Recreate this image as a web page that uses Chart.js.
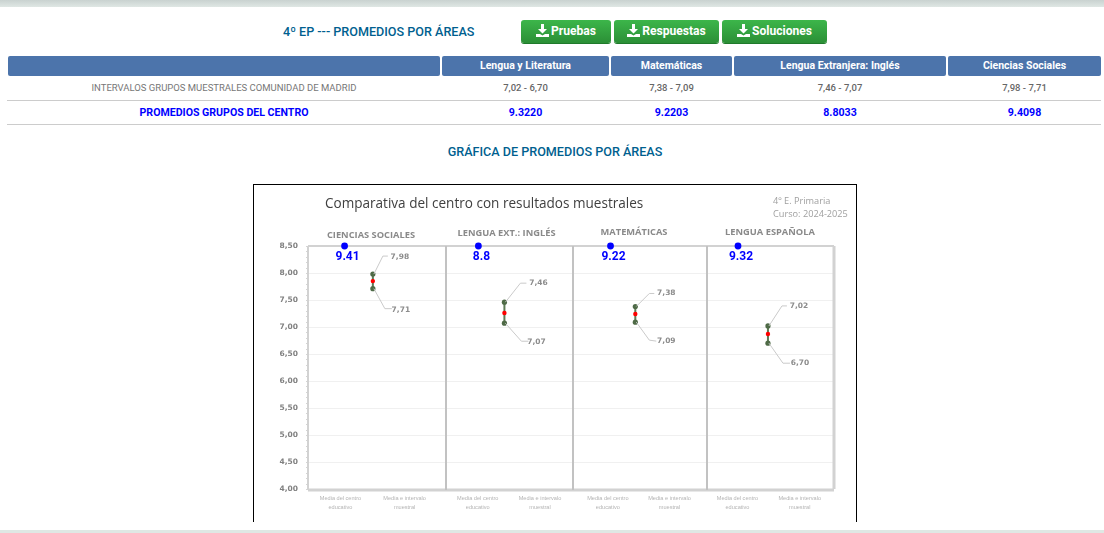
<!DOCTYPE html>
<html lang="es"><head><meta charset="utf-8">
<script src="https://cdn.jsdelivr.net/npm/chart.js@4"></script>
<style>
html,body{margin:0;padding:0;background:#fff;width:1104px;height:533px;overflow:hidden;font-family:Roboto,sans-serif}
.abs{position:absolute;white-space:nowrap}
#topbar{left:0;top:0;width:1104px;height:7px;background:linear-gradient(#c9d2d0,#dfe7e4)}
#botbar{left:0;top:530px;width:1104px;height:3px;background:#dfe8e4}
.ttl{color:#005f8f;font-size:12.6px;font-weight:500}
.btn{top:20px;height:23px;border-radius:3px;background:linear-gradient(#3cb64a,#2b8f36);color:#fff;font-weight:700;font-size:12.1px;line-height:23px;text-align:center;box-shadow:0 1px 0 #1f7a2b}
.btn svg{vertical-align:-2px;margin-right:2px}
.hd{top:56px;height:20px;background:#4c74ab;color:#fff;font-weight:700;font-size:10.5px;line-height:20px;text-align:center;border-radius:2px}
.c1,.c2{text-align:center}
.c1{top:77px;height:22px;line-height:22px;font-size:9.5px;color:#777}
.c1.v{font-weight:500;font-size:9.5px;color:#666}
.c2{top:101px;height:23px;line-height:23px;font-size:10.6px;font-weight:700;color:#00f}
.ln{left:7px;width:1094px;height:1px;background:#ccc}
#box{left:253px;top:184px;width:602px;height:337px;border:1px solid #000;border-bottom:none}
#wrap{left:254px;top:185px;width:602px;height:336px}
canvas{filter:blur(.35px)}
</style></head><body>
<div class="abs" id="topbar"></div><div class="abs" id="botbar"></div>
<div class="abs ttl" style="left:283px;top:24px">4º EP --- PROMEDIOS POR ÁREAS</div>
<div id="page"></div>
<div class="abs ln" style="top:100px"></div><div class="abs ln" style="top:124px"></div>
<div class="abs ttl" style="left:355px;width:400px;top:144px;text-align:center">GRÁFICA DE PROMEDIOS POR ÁREAS</div>
<div class="abs" id="box"></div>
<div class="abs" id="wrap"><canvas id="c" width="602" height="336" style="width:602px;height:336px"></canvas></div>
<script>
// ---- page table ----
const tableSubjects = ["Lengua y Literatura","Matemáticas","Lengua Extranjera: Inglés","Ciencias Sociales"];
const tableIntervals = ["7,02 - 6,70","7,38 - 7,09","7,46 - 7,07","7,98 - 7,71"];
const tableAverages = ["9.3220","9.2203","8.8033","9.4098"];
const buttonNames = ["Pruebas","Respuestas","Soluciones"];
// ---- chart data (in chart order) ----
const areas = ["CIENCIAS SOCIALES","LENGUA EXT.: INGLÉS","MATEMÁTICAS","LENGUA ESPAÑOLA"];
const centerAverages = [9.41,8.8,9.22,9.32];
const rangeHigh = [7.98,7.46,7.38,7.02];
const rangeLow = [7.71,7.07,7.09,6.70];
const rangeMean = [7.85,7.26,7.24,6.87];
const xLabels = [["Media del centro","educativo"],["Media e intervalo","muestral"]];
const yMin = 4, yMax = 8.5;

// ---- layout only ----
const panelEdges = [0,138,265,399,526];
const centerFrac = [.265,.255,.28,.244];
const rangeFrac = [.47,.46,.465,.48];
const labelFrac = [[.235,.70],[.25,.74],[.26,.72],[.24,.73]];
const xAt = (i,f)=>panelEdges[i]+f*(panelEdges[i+1]-panelEdges[i]);

const page=document.getElementById('page');
function add(cls,l,w,txt,html){const d=document.createElement('div');d.className='abs '+cls;d.style.left=l+'px';d.style.width=w+'px';if(html)d.innerHTML=html;else d.textContent=txt;page.appendChild(d);}
const icon='<svg width="13" height="13" viewBox="0 0 13 13"><path fill="#fff" d="M5 0h3v5h3L6.5 9.5 2 5h3zM0 10h4l2.5 1.5L9 10h4v3H0z"/></svg>';
[[521,90],[614,105],[722,105]].forEach((b,i)=>add('btn',b[0],b[1],'',icon+buttonNames[i]));
const cols=[[8,432],[442,167],[611,121],[734,212],[948,153]];
add('hd',cols[0][0],cols[0][1],'');
tableSubjects.forEach((s,i)=>{const c=cols[i+1];add('hd',c[0],c[1],s);add('c1 v',c[0],c[1],tableIntervals[i]);add('c2',c[0],c[1],tableAverages[i]);});
add('c1',cols[0][0],cols[0][1],'INTERVALOS GRUPOS MUESTRALES COMUNIDAD DE MADRID');
add('c2',cols[0][0],cols[0][1],'PROMEDIOS GRUPOS DEL CENTRO');

// ---- datasets ----
const rangeLine=[];
areas.forEach((a,i)=>{const x=xAt(i,rangeFrac[i]);
  rangeLine.push({x,y:rangeHigh[i]},{x,y:rangeLow[i]},{x,y:null});});
const leaderShape=[ // offsets in px from the mark to elbow, end of line, text centre
 {hi:[10,-18,15,-18,27,-17],lo:[12,20,19,20,28,21]},
 {hi:[16,-19,22,-19,34,-19],lo:[17,18,24,18,32,19]},
 {hi:[14,-13,19,-13,31,-13],lo:[14,18,21,19,31,19]},
 {hi:[14,-20,19,-20,31,-20],lo:[15,20,22,20,32,20]}];
const fmt=v=>v.toFixed(2).replace('.',',');

const deco={id:'deco',
 beforeDatasetsDraw(ch){const {ctx,scales:{x,y},chartArea:a}=ch;ctx.save();
  ctx.strokeStyle='#d4d4d4';ctx.lineWidth=1;
  for(let k=0;k<=45;k++){const py=Math.round(y.getPixelForValue(yMin+k*0.1))+.5;ctx.beginPath();ctx.moveTo(a.left-2,py);ctx.lineTo(a.left,py);ctx.stroke();}
  ctx.strokeStyle='#d2d2d2';ctx.lineWidth=2;ctx.beginPath();ctx.moveTo(a.left,a.top);ctx.lineTo(a.right,a.top);ctx.moveTo(a.left,a.top);ctx.lineTo(a.left,a.bottom);ctx.stroke();
  ctx.lineWidth=3;ctx.beginPath();ctx.moveTo(a.left,a.bottom+1);ctx.lineTo(a.right,a.bottom+1);ctx.moveTo(a.right,a.top);ctx.lineTo(a.right,a.bottom);ctx.stroke();
  ctx.strokeStyle='#c2c2c2';ctx.lineWidth=2;
  panelEdges.slice(1,-1).forEach(e=>{const px=x.getPixelForValue(e);ctx.beginPath();ctx.moveTo(px,a.top);ctx.lineTo(px,a.bottom+1);ctx.stroke();});
  ctx.restore();},
 afterDatasetsDraw(ch){const {ctx,scales:{x,y}}=ch;ctx.save();
  ctx.textBaseline='middle';
  areas.forEach((n,i)=>{const px=x.getPixelForValue(xAt(i,rangeFrac[i]));
   [['hi',rangeHigh[i]],['lo',rangeLow[i]]].forEach(([k,v])=>{const s=leaderShape[i][k],py=y.getPixelForValue(v);
    ctx.strokeStyle='#cacaca';ctx.lineWidth=1;ctx.beginPath();ctx.moveTo(px+1,py);ctx.lineTo(px+s[0],py+s[1]);ctx.lineTo(px+s[2],py+s[3]);ctx.stroke();
    ctx.fillStyle='#8c8c8c';ctx.font='bold 7.5px "DejaVu Sans"';ctx.textAlign='center';ctx.fillText(fmt(v),px+s[4],py+s[5]);});
   ctx.fillStyle='#0000ff';ctx.font='bold 12px Roboto';ctx.textAlign='center';
   ctx.fillText(String(centerAverages[i]),x.getPixelForValue(xAt(i,centerFrac[i]))+3,y.getPixelForValue(yMax)+10.5);
  });
  const hx=[117,252.5,380,516],hy=[50.5,48.5,47.5,47.5];
  ctx.fillStyle='#8a8a8a';ctx.font='bold 9.3px "Open Sans"';ctx.textAlign='center';
  areas.forEach((n,i)=>ctx.fillText(n,hx[i],hy[i]));
  ctx.textAlign='left';ctx.fillStyle='#404040';ctx.font='13.55px "Open Sans"';
  ctx.fillText('Comparativa del centro con resultados muestrales',71,19.5);
  ctx.fillStyle='#a0a0a0';ctx.font='9.2px "Open Sans"';
  ctx.fillText('4º E. Primaria',519,16);ctx.fillText('Curso: 2024-2025',519,29);
  ctx.restore();}
};

const xTickAt=[];areas.forEach((a,i)=>labelFrac[i].forEach((f,j)=>xTickAt.push({value:xAt(i,f),j})));

new Chart(document.getElementById('c'),{
 type:'scatter',
 data:{datasets:[
  {label:'Intervalo muestral',type:'line',data:rangeLine,spanGaps:false,borderColor:'#5d7a55',borderWidth:2,pointStyle:'circle',pointRadius:2.6,pointBackgroundColor:'#4e6a46',pointBorderWidth:0,order:2},
  {label:'Media muestral',data:areas.map((a,i)=>({x:xAt(i,rangeFrac[i]),y:rangeMean[i]})),pointStyle:'circle',pointRadius:2.2,backgroundColor:'#ff0000',borderWidth:0,order:1},
  {label:'Media del centro',data:areas.map((a,i)=>({x:xAt(i,centerFrac[i]),y:Math.min(centerAverages[i],yMax)})),pointStyle:'circle',pointRadius:3.4,backgroundColor:'#0000ff',borderWidth:0,clip:false,order:0}
 ]},
 options:{responsive:false,animation:false,devicePixelRatio:1,
  layout:{padding:{top:61,right:22,left:0,bottom:0}},
  plugins:{legend:{display:false},tooltip:{enabled:false}},
  scales:{
   x:{type:'linear',min:0,max:526,
      afterBuildTicks:s=>{s.ticks=xTickAt.map(t=>({value:t.value}));},
      afterFit:s=>{s.height=32;},
      grid:{display:false},border:{display:false},
      ticks:{autoSkip:false,maxRotation:0,minRotation:0,padding:-3,color:'#b4b4b4',font:{size:5.6,family:'"Liberation Sans"',lineHeight:1.6},
       callback:(v)=>{const t=xTickAt.find(q=>Math.abs(q.value-v)<1e-6);return t?xLabels[t.j]:'';}}},
   y:{min:yMin,max:yMax,
      afterFit:s=>{s.width=54;},
      grid:{color:'#f0f0f0',lineWidth:1,drawTicks:false},border:{display:false},
      ticks:{stepSize:.5,padding:10,color:'#808080',font:{size:7.5,weight:'bold',family:'"DejaVu Sans"'},callback:v=>v.toFixed(2).replace('.',',')}}
  }},
 plugins:[deco]
});
</script></body></html>
